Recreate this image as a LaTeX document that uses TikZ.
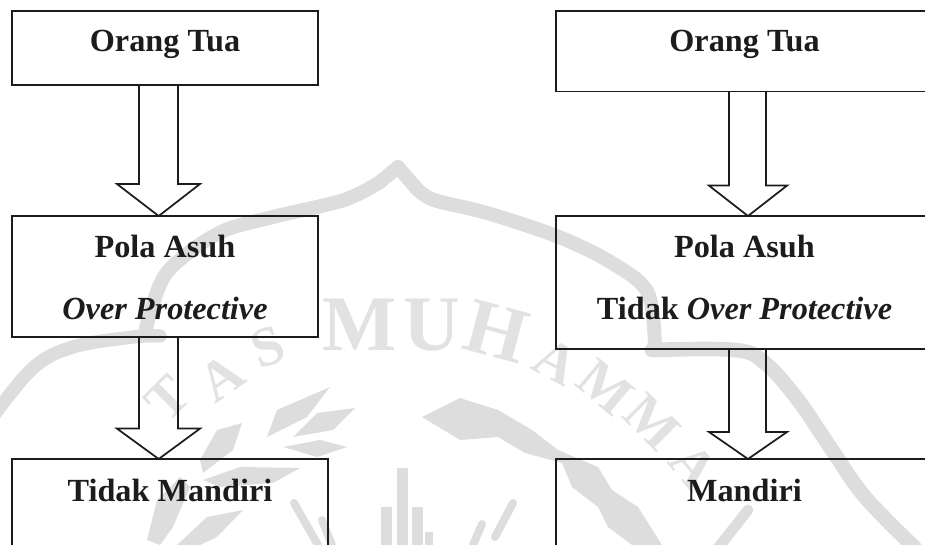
\documentclass[tikz,border=0pt]{standalone}
\usepackage{fontspec}
\setmainfont{Liberation Serif}
\definecolor{wmband}{HTML}{DDDDDD}
\definecolor{wmtext}{HTML}{E2E2E2}
\definecolor{ink}{HTML}{1C1C1C}
\tikzset{
  flowbox/.style={draw=ink,line width=1.3pt,anchor=north west,inner sep=0pt,outer sep=0pt,align=flush center,text=ink,
    font=\fontsize{24.2}{46.9}\selectfont\bfseries},
  blockline/.style={draw=ink,line width=1.3pt,line join=miter},
  wmline/.style={draw=wmband,line cap=round,line join=round},
  wmleaf/.style={fill=wmband,draw=none},
  wmletter/.style={text=wmtext,inner sep=0pt,font=\fontsize{59}{59}\selectfont\bfseries},
  wmsmall/.style={wmletter,font=\fontsize{42}{42}\selectfont\bfseries}
}
% from, to, shaft left, shaft right, head left, head right, head y, tip x
\newcommand\blockarrow[8]{%
  \draw[blockline] (#1.south -| #3,0) -- (#3,#7) -- (#5,#7) -- (#2.north -| #8,0) -- (#6,#7) -- (#4,#7) -- (#1.south -| #4,0);}
\begin{document}
\begin{tikzpicture}[x=0.75pt,y=-0.75pt]
\useasboundingbox (0,0) rectangle (925,545);
\clip (0,0) rectangle (925,545);
% watermark
\draw[wmline,line width=10.5pt] plot[smooth,tension=0.55] coordinates {(145,335) (151,310) (169,270) (219,233) (273,217) (344,200) (380,182)};
\draw[wmline,line width=10.5pt] (380,182) -- (398,167) -- (416,188);
\draw[wmline,line width=10.5pt] plot[smooth,tension=0.55] coordinates {(416,188) (434,200) (487,213) (559,237) (612,263) (648,293) (655,350)};
\draw[wmline,line width=10pt] plot[smooth,tension=0.6] coordinates {(-8,418) (33,368) (73,347) (133,337) (160,336)};
\draw[wmline,line width=11pt] plot[smooth,tension=0.6] coordinates {(652,350) (735,350) (765,363) (798,400) (832,450) (865,497) (915,548)};
\fill[wmleaf] (422,417) -- (460,398) -- (498,410) -- (532,430) -- (558,450) -- (598,467) -- (612,490) -- (638,507) -- (662,545) -- (632,545) -- (608,527) -- (598,507) -- (572,487) -- (562,463) -- (525,453) -- (498,437) -- (460,440) -- cycle;
\fill[wmleaf] (267,437) -- (277,410) -- (330,387) -- (307,417) -- cycle;
\fill[wmleaf] (293,437) -- (317,413) -- (355,408) -- (333,430) -- cycle;
\fill[wmleaf] (283,447) -- (320,440) -- (347,447) -- (317,457) -- cycle;
\fill[wmleaf] (200,460) -- (217,430) -- (242,423) -- (233,450) -- (203,473) -- cycle;
\fill[wmleaf] (203,480) -- (240,467) -- (300,468) -- (273,483) -- (220,487) -- cycle;
\fill[wmleaf] (147,540) -- (157,500) -- (180,477) -- (190,487) -- (173,527) -- (160,545) -- cycle;
\fill[wmleaf] (177,545) -- (207,517) -- (243,510) -- (217,537) -- (200,545) -- cycle;
\fill[wmleaf] (397,468) rectangle (408,545);
\fill[wmleaf] (381,507) rectangle (392,545);
\fill[wmleaf] (412,507) rectangle (423,545);
\fill[wmleaf] (425,532) rectangle (433,545);
\draw[wmline,line width=6pt] (294,503) -- (318,545);
\draw[wmline,line width=6pt] (322,520) -- (332,545);
\draw[wmline,line width=6pt] (513,503) -- (495,537);
\draw[wmline,line width=6pt] (482,524) -- (473,545);
\draw[wmline,line width=8pt] (748,510) -- (718,548);
\node[wmsmall] (wmT) at (168,398) [rotate=45] {T};
\node[wmsmall] (wmA) at (221,378) [rotate=35] {A};
\node[wmsmall] (wmS) at (268,347) [rotate=20] {S};
\node[wmletter] (wmM) at (360,325) {M};
\node[wmletter] (wmU) at (432,325) {U};
\node[wmletter] (wmH) at (497,332) [rotate=-15] {H};
\node[wmsmall] (wmAa) at (556,362) [rotate=-28] {A};
\node[wmsmall] (wmMa) at (606,387) [rotate=-40] {M};
\node[wmsmall] (wmMb) at (652,422) [rotate=-45] {M};
\node[wmsmall] (wmAb) at (694,466) [rotate=-50] {A};
% boxes: text height = top to first baseline, text depth = baseline to bottom
\node[flowbox,text width=229.5pt,text height=30.75pt,text depth=24.75pt] (a1) at (12,11) {Orang Tua};
\node[flowbox,text width=229.5pt,text height=31pt,text depth=59.5pt] (a2) at (12,216) {Pola Asuh\\\textit{Over Protective}};
\node[flowbox,text width=237pt,text height=31.5pt,text depth=75pt] (a3) at (12,459) {Tidak Mandiri};
\node[flowbox,text width=282.75pt,text height=30.75pt,text depth=29.6pt] (b1) at (556,11) {Orang Tua};
\node[flowbox,text width=282.75pt,text height=31pt,text depth=68.6pt] (b2) at (556,216) {Pola Asuh\\Tidak \textit{Over Protective}};
\node[flowbox,text width=282.75pt,text height=31.5pt,text depth=75pt] (b3) at (556,459) {Mandiri};
% block arrows
\blockarrow{a1}{a2}{139}{178}{117}{200}{184}{158.7}
\blockarrow{a2}{a3}{139}{178}{117}{200}{428.6}{158.7}
\blockarrow{b1}{b2}{729}{766}{709}{787}{185.6}{748}
\blockarrow{b2}{b3}{729}{766}{709}{787}{432}{748}
\end{tikzpicture}
\end{document}
